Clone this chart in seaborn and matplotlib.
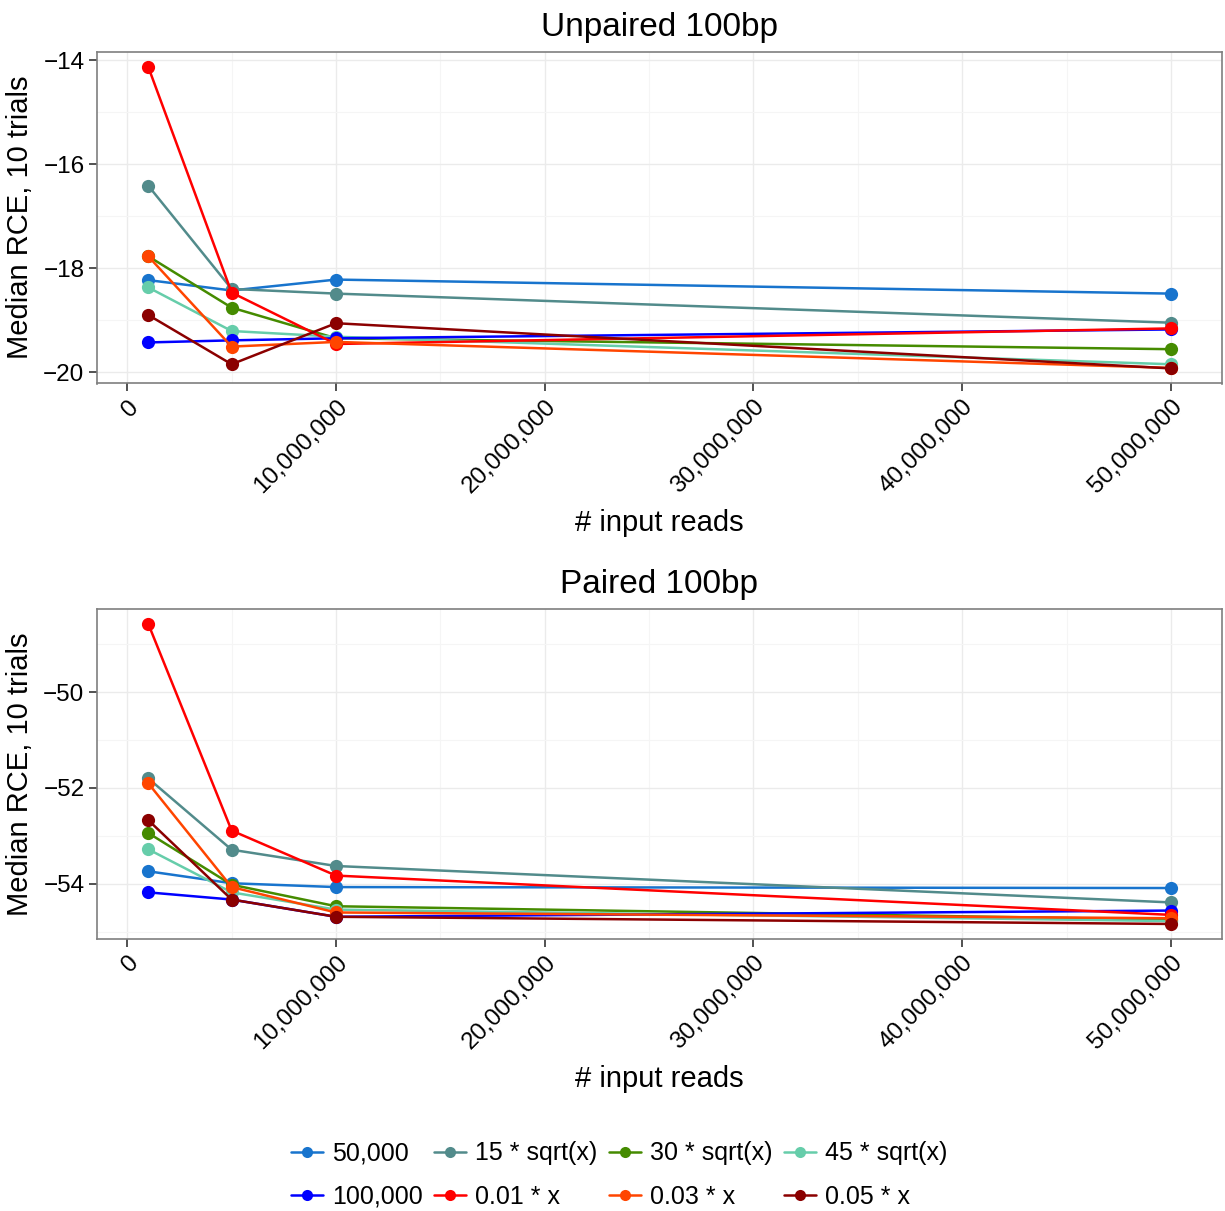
import numpy as np
import pandas as pd
import matplotlib
matplotlib.use("Agg")
import matplotlib.pyplot as plt
import seaborn as sns
from matplotlib.ticker import FuncFormatter, MultipleLocator
from matplotlib.lines import Line2D

reads = [1_000_000, 5_000_000, 10_000_000, 50_000_000]
series = ["50,000", "15 * sqrt(x)", "30 * sqrt(x)", "45 * sqrt(x)",
          "100,000", "0.01 * x", "0.03 * x", "0.05 * x"]
colors = ["#1874CD", "#528B8B", "#458B00", "#66CDAA",
          "#0000FF", "#FF0000", "#FF4500", "#8B0000"]

unpaired = {
    "50,000":       [-18.23, -18.43, -18.22, -18.49],
    "15 * sqrt(x)": [-16.41, -18.40, -18.49, -19.05],
    "30 * sqrt(x)": [-17.77, -18.76, -19.35, -19.56],
    "45 * sqrt(x)": [-18.37, -19.21, -19.32, -19.85],
    "100,000":      [-19.43, -19.39, -19.35, -19.18],
    "0.01 * x":     [-14.12, -18.47, -19.46, -19.16],
    "0.03 * x":     [-17.77, -19.51, -19.42, -19.92],
    "0.05 * x":     [-18.90, -19.85, -19.06, -19.93],
}
paired = {
    "50,000":       [-53.74, -53.99, -54.07, -54.09],
    "15 * sqrt(x)": [-51.80, -53.29, -53.63, -54.39],
    "30 * sqrt(x)": [-52.94, -54.02, -54.47, -54.75],
    "45 * sqrt(x)": [-53.28, -54.18, -54.54, -54.78],
    "100,000":      [-54.18, -54.33, -54.69, -54.56],
    "0.01 * x":     [-48.57, -52.89, -53.83, -54.65],
    "0.03 * x":     [-51.90, -54.07, -54.60, -54.72],
    "0.05 * x":     [-52.67, -54.33, -54.69, -54.84],
}

def to_df(d):
    rows = []
    for s in series:
        for x, v in zip(reads, d[s]):
            rows.append({"reads": x, "rce": v, "series": s})
    return pd.DataFrame(rows)

def expanded(lo, hi, frac=0.05):
    r = hi - lo
    return lo - frac * r, hi + frac * r

sns.set_theme(style="white")
plt.rcParams["font.family"] = ["Liberation Sans", "DejaVu Sans"]
plt.rcParams["text.color"] = "black"
plt.rcParams["axes.labelcolor"] = "black"

fig = plt.figure(figsize=(12.25, 12.11), dpi=100)
W, H = 1225, 1211
L, R = 97, 1222
ax1 = fig.add_axes([L / W, 1 - 383.5 / H, (R - L) / W, (383.5 - 51.5) / H])
ax2 = fig.add_axes([L / W, 1 - 939 / H, (R - L) / W, (939 - 608.5) / H])

palette = dict(zip(series, colors))
panels = [
    (ax1, unpaired, "Unpaired 100bp", [-15, -17, -19]),
    (ax2, paired, "Paired 100bp", [-49, -51, -53, -55]),
]
for ax, d, title, yminor in panels:
    df = to_df(d)
    sns.lineplot(data=df, x="reads", y="rce", hue="series", hue_order=series,
                 palette=palette, marker="o", markersize=9.5, markeredgewidth=0,
                 linewidth=1.8, ax=ax, legend=False)
    ax.set_xlim(*expanded(min(reads), max(reads)))
    ax.set_ylim(*expanded(df["rce"].min(), df["rce"].max()))
    ax.xaxis.set_major_locator(MultipleLocator(10_000_000))
    ax.xaxis.set_minor_locator(MultipleLocator(5_000_000))
    ax.yaxis.set_major_locator(MultipleLocator(2))
    ax.set_yticks(yminor, minor=True)
    ax.xaxis.set_major_formatter(FuncFormatter(lambda v, p: f"{int(round(v)):,}"))
    ax.yaxis.set_major_formatter(FuncFormatter(lambda v, p: f"\u2212{abs(int(round(v)))}" if v < 0 else f"{int(round(v))}"))
    ax.grid(True, which="major", color="#EBEBEB", linewidth=1.0)
    ax.grid(True, which="minor", color="#F5F5F5", linewidth=0.8)
    ax.set_axisbelow(True)
    for sp in ax.spines.values():
        sp.set_color("#7F7F7F")
        sp.set_linewidth(1.2)
    ax.tick_params(axis="both", which="major", length=6, width=1.2, color="#333333",
                   labelsize=17.5, labelcolor="black", bottom=True, left=True, pad=3)
    ax.tick_params(axis="both", which="minor", length=0)
    for lab in ax.get_xticklabels():
        lab.set_rotation(45)
        lab.set_ha("right")
        lab.set_va("top")
        lab.set_rotation_mode("anchor")
    ax.set_title(title, fontsize=24, pad=11, color="black")
    ax.set_xlabel("# input reads", fontsize=21, labelpad=8)
    ax.set_ylabel("Median RCE, 10 trials", fontsize=21, labelpad=7)

# legend: 2 rows x 4 cols, row-wise order
order = [0, 4, 1, 5, 2, 6, 3, 7]
handles = [Line2D([0], [0], color=colors[i], marker="o", markersize=8,
                  markeredgewidth=0, linewidth=1.8) for i in order]
labels = [series[i] for i in order]
fig.legend(handles, labels, loc="center", bbox_to_anchor=(619 / W, 1 - 1175 / H),
           ncol=4, frameon=False, fontsize=18, handlelength=1.3,
           columnspacing=0.45, handletextpad=0.35, labelspacing=0.78)

fig.savefig("out.png", dpi=100)
